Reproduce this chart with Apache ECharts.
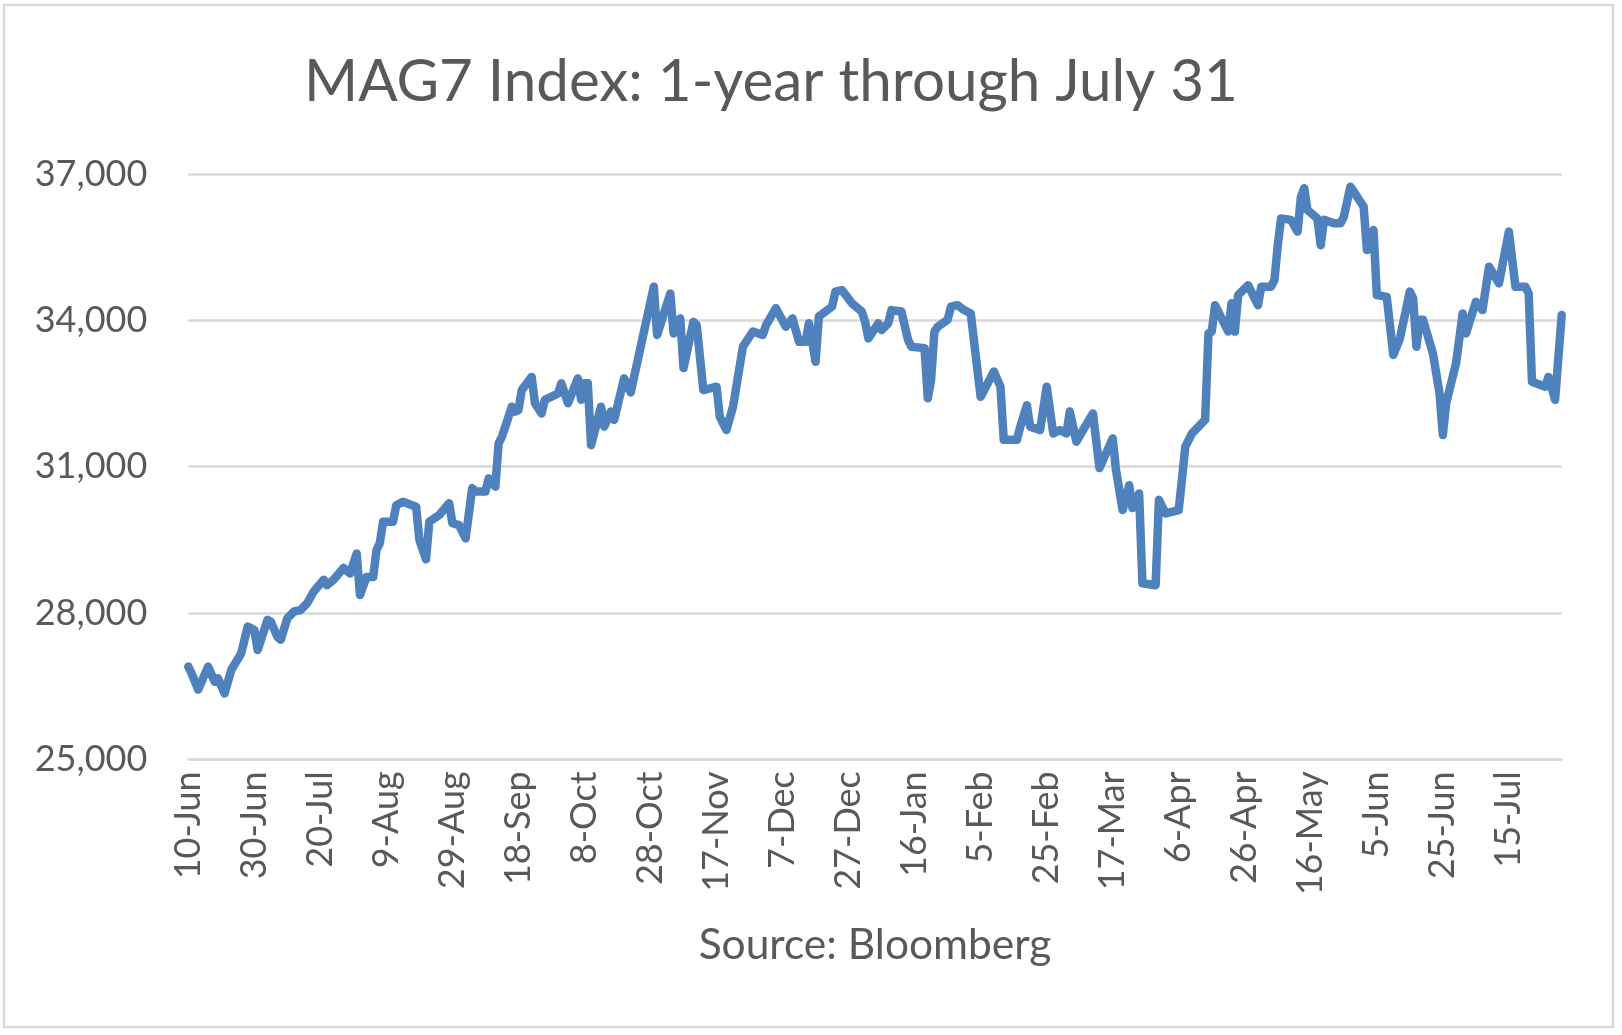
<!DOCTYPE html>
<html>
<head>
<meta charset="utf-8">
<script src="https://cdn.jsdelivr.net/npm/echarts@6/dist/echarts.min.js"></script>
<style>
  html, body { margin: 0; padding: 0; background: #ffffff; }
  #chart { width: 1622px; height: 1035px; }
</style>
</head>
<body>
<div id="chart"></div>
<script>
const titleText = 'MAG7 Index: 1-year through July 31';
const sourceText = 'Source: Bloomberg';
const startDate = '2024-06-10';
const endDate = '2025-07-31';

const tickLabels = ['10-Jun','30-Jun','20-Jul','9-Aug','29-Aug','18-Sep','8-Oct','28-Oct','17-Nov','7-Dec','27-Dec','16-Jan','5-Feb','25-Feb','17-Mar','6-Apr','26-Apr','16-May','5-Jun','25-Jun','15-Jul'];
const yTicks = [25000, 28000, 31000, 34000, 37000];

const dates = [
 '2024-06-10','2024-06-11','2024-06-13','2024-06-16','2024-06-18','2024-06-19','2024-06-21','2024-06-23','2024-06-26','2024-06-28',
 '2024-06-30','2024-07-01','2024-07-04','2024-07-05','2024-07-07','2024-07-08','2024-07-10','2024-07-12','2024-07-14','2024-07-16',
 '2024-07-18','2024-07-21','2024-07-22','2024-07-24','2024-07-27','2024-07-29','2024-07-31','2024-08-01','2024-08-03','2024-08-05',
 '2024-08-06','2024-08-07','2024-08-08','2024-08-11','2024-08-12','2024-08-14','2024-08-18','2024-08-19','2024-08-21','2024-08-22',
 '2024-08-25','2024-08-28','2024-08-29','2024-08-31','2024-09-02','2024-09-04','2024-09-05','2024-09-08','2024-09-09','2024-09-11',
 '2024-09-12','2024-09-13','2024-09-16','2024-09-17','2024-09-18','2024-09-19','2024-09-22','2024-09-23','2024-09-25','2024-09-26',
 '2024-09-30','2024-10-01','2024-10-03','2024-10-06','2024-10-07','2024-10-08','2024-10-09','2024-10-10','2024-10-13','2024-10-14',
 '2024-10-16','2024-10-17','2024-10-20','2024-10-22','2024-10-29','2024-10-30','2024-11-03','2024-11-04','2024-11-06','2024-11-07',
 '2024-11-10','2024-11-11','2024-11-13','2024-11-17','2024-11-18','2024-11-20','2024-11-22','2024-11-25','2024-11-28','2024-12-01',
 '2024-12-02','2024-12-05','2024-12-08','2024-12-10','2024-12-12','2024-12-14','2024-12-15','2024-12-17','2024-12-18','2024-12-22',
 '2024-12-23','2024-12-25','2024-12-28','2024-12-31','2025-01-01','2025-01-02','2025-01-05','2025-01-06','2025-01-08','2025-01-09',
 '2025-01-12','2025-01-14','2025-01-15','2025-01-19','2025-01-20','2025-01-21','2025-01-22','2025-01-23','2025-01-26','2025-01-27',
 '2025-01-29','2025-01-31','2025-02-02','2025-02-05','2025-02-09','2025-02-11','2025-02-12','2025-02-16','2025-02-17','2025-02-19',
 '2025-02-20','2025-02-23','2025-02-25','2025-02-27','2025-03-01','2025-03-03','2025-03-04','2025-03-06','2025-03-08','2025-03-11',
 '2025-03-13','2025-03-17','2025-03-18','2025-03-20','2025-03-22','2025-03-23','2025-03-25','2025-03-26','2025-03-30','2025-03-31',
 '2025-04-02','2025-04-06','2025-04-08','2025-04-10','2025-04-14','2025-04-15','2025-04-16','2025-04-17','2025-04-21','2025-04-22',
 '2025-04-23','2025-04-24','2025-04-27','2025-04-30','2025-05-01','2025-05-04','2025-05-05','2025-05-06','2025-05-07','2025-05-10',
 '2025-05-12','2025-05-13','2025-05-14','2025-05-15','2025-05-18','2025-05-19','2025-05-20','2025-05-23','2025-05-25','2025-05-26',
 '2025-05-28','2025-06-01','2025-06-02','2025-06-04','2025-06-05','2025-06-08','2025-06-10','2025-06-12','2025-06-15','2025-06-16',
 '2025-06-17','2025-06-18','2025-06-19','2025-06-22','2025-06-24','2025-06-25','2025-06-26','2025-06-29','2025-07-01','2025-07-02',
 '2025-07-05','2025-07-07','2025-07-09','2025-07-12','2025-07-15','2025-07-17','2025-07-20','2025-07-21','2025-07-22','2025-07-26',
 '2025-07-27','2025-07-29','2025-07-31'
];

const values = [
 26900,26760,26430,26900,26590,26660,26350,26830,27170,27720,
 27650,27240,27860,27820,27510,27450,27890,28030,28060,28200,
 28440,28680,28570,28680,28920,28810,29220,28370,28740,28740,
 29290,29430,29870,29870,30210,30280,30180,29500,29100,29870,
 30010,30250,29840,29800,29530,30560,30490,30490,30760,30590,
 31480,31610,32230,32130,32160,32570,32840,32300,32090,32370,
 32500,32710,32300,32810,32370,32710,32710,31440,32230,31820,
 32130,31960,32810,32520,34690,33700,34550,33730,34040,33020,
 33970,33900,32570,32640,32020,31750,32230,33460,33770,33700,
 33900,34250,33870,34040,33560,33560,33940,33150,34080,34280,
 34590,34620,34350,34180,33970,33630,33940,33800,33940,34210,
 34180,33600,33460,33430,32400,32780,33770,33870,34010,34280,
 34310,34210,34140,32430,32950,32640,31550,31550,31820,32260,
 31820,31750,32640,31680,31750,31680,32130,31510,31750,32090,
 30970,31580,30930,30110,30620,30150,30450,28610,28570,30320,
 30040,30110,31410,31680,31960,33730,33770,34310,33770,34350,
 33770,34520,34720,34310,34690,34690,34830,35540,36090,36060,
 35820,36530,36710,36260,36090,35540,36060,35990,35990,36120,
 36740,36330,35440,35850,34520,34480,33290,33630,34590,34450,
 33460,34010,34010,33320,32500,31650,32300,33120,34140,33730,
 34380,34210,35100,34760,35820,34690,34690,34550,32740,32640,
 32840,32370,34110
];

function dayOffset(s) {
  const a = s.split('-').map(Number);
  const b = startDate.split('-').map(Number);
  return Math.round((Date.UTC(a[0], a[1] - 1, a[2]) - Date.UTC(b[0], b[1] - 1, b[2])) / 86400000);
}

const seriesData = dates.map((d, i) => [dayOffset(d), values[i]]);
const textColor = '#595959';
const gridColor = '#D9D9D9';
const fontFam = 'Lato, "Open Sans", sans-serif';

const chart = echarts.init(document.getElementById('chart'), null, { renderer: 'canvas' });
chart.setOption({
  animation: false,
  backgroundColor: '#ffffff',
  graphic: [{
    type: 'rect',
    shape: { x: 4, y: 5, width: 1609, height: 1022 },
    style: { fill: 'none', stroke: gridColor, lineWidth: 2.5 },
    silent: true, z: 0
  }],
  title: {
    text: titleText,
    left: 299,
    top: 48,
    textStyle: { color: textColor, fontFamily: fontFam, fontWeight: 'normal', fontSize: 58.3 }
  },
  grid: { left: 188.3, right: 60.3, top: 174, bottom: 275.7, containLabel: false },
  xAxis: {
    type: 'value',
    min: 0,
    max: dayOffset(endDate),
    interval: 20,
    name: sourceText,
    nameLocation: 'middle',
    nameGap: 164,
    nameTextStyle: { color: textColor, fontFamily: fontFam, fontSize: 42.5 },
    axisLine: { show: true, lineStyle: { color: gridColor, width: 2.5 } },
    axisTick: { show: false },
    splitLine: { show: false },
    axisLabel: {
      rotate: 90,
      margin: 12,
      color: textColor,
      fontFamily: fontFam,
      fontSize: 36,
      showMaxLabel: false,
      formatter: function (v) { return (v % 20 === 0 && tickLabels[v / 20]) ? tickLabels[v / 20] : ''; }
    }
  },
  yAxis: {
    type: 'value',
    min: yTicks[0],
    max: yTicks[yTicks.length - 1],
    interval: yTicks[1] - yTicks[0],
    axisLine: { show: false },
    axisTick: { show: false },
    splitLine: { show: true, lineStyle: { color: gridColor, width: 2.5 } },
    axisLabel: {
      margin: 41,
      color: textColor,
      fontFamily: fontFam,
      fontSize: 36,
      formatter: function (v) { return v.toLocaleString('en-US'); }
    }
  },
  series: [{
    type: 'line',
    data: seriesData,
    showSymbol: false,
    symbol: 'none',
    smooth: false,
    lineStyle: { color: '#4F81BD', width: 8.5, join: 'round', cap: 'round' },
    z: 3
  }]
});
</script>
</body>
</html>
